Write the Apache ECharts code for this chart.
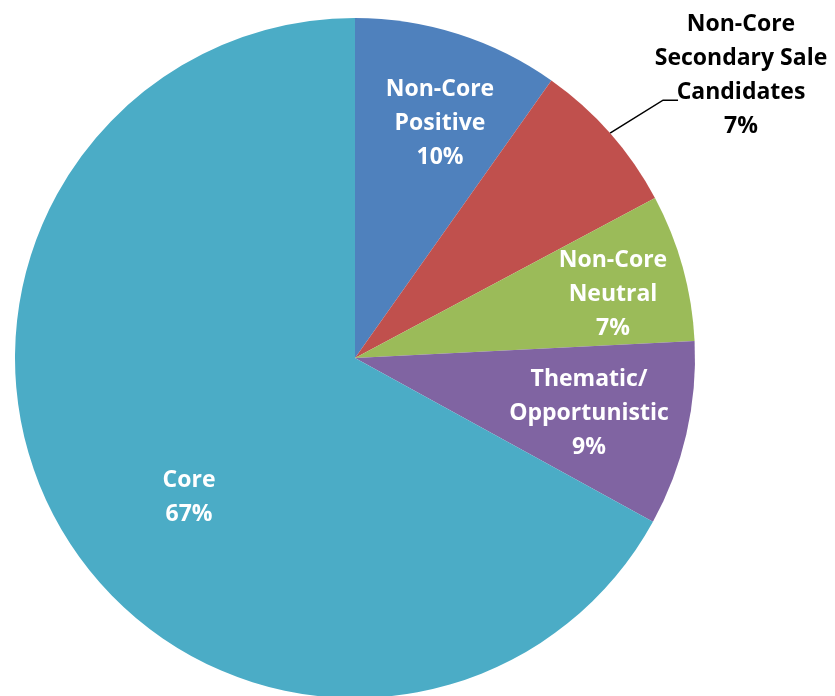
<!DOCTYPE html>
<html>
<head>
<meta charset="utf-8">
<script src="https://cdn.jsdelivr.net/npm/echarts@6/dist/echarts.min.js"></script>
<style>
  html, body { margin: 0; padding: 0; background: #fff; }
  #chart { width: 835px; height: 696px; }
</style>
</head>
<body>
<div id="chart"></div>
<script>
// slices, clockwise from 12 o'clock (shares, labels show rounded %)
const names = ['Non-Core\nPositive', 'Non-Core\nSecondary Sale\nCandidates', 'Non-Core\nNeutral', 'Thematic/\nOpportunistic', 'Core']
const values = [9.8, 7.4, 7.0, 8.8, 67.0]
const colors = ['#4F81BD', '#C0504D', '#9BBB59', '#8064A2', '#4BACC6']

// where each label sits (like the Excel best-fit placement)
const labelPos = [[440, 123], [741, 75], [613, 294], [589, 413], [189, 497]]

const chart = echarts.init(document.getElementById('chart'))

const data = names.map((n, i) => {
  const item = { name: n, value: values[i], itemStyle: { color: colors[i] } }
  if (i === 1) {
    item.label = { position: 'outside', color: '#000' }
    item.labelLine = { show: true, length: 55, length2: 15, lineStyle: { color: '#000', width: 1.5 } }
  }
  return item
})

const option = {
  animation: false,
  series: [
    {
      type: 'pie',
      center: [355, 358],
      radius: 340,
      startAngle: 90,
      clockwise: true,
      avoidLabelOverlap: false,
      itemStyle: { borderWidth: 0 },
      label: {
        show: true,
        position: 'inside',
        color: '#fff',
        fontFamily: 'Open Sans',
        fontWeight: 'bold',
        fontSize: 23,
        lineHeight: 34,
        formatter: p => p.name + '\n' + Math.round(p.percent) + '%'
      },
      labelLine: { show: false },
      labelLayout: function (params) {
        const p = labelPos[params.dataIndex]
        const out = { x: p[0], y: p[1], align: 'center', verticalAlign: 'middle' }
        if (params.dataIndex === 1 && params.labelLinePoints) {
          const s = params.labelLinePoints[0]
          out.labelLinePoints = [[s[0], s[1]], [s[0] + 53, s[1] - 33], [s[0] + 68, s[1] - 33]]
        }
        return out
      },
      data: data
    }
  ]
}
chart.setOption(option)
</script>
</body>
</html>
